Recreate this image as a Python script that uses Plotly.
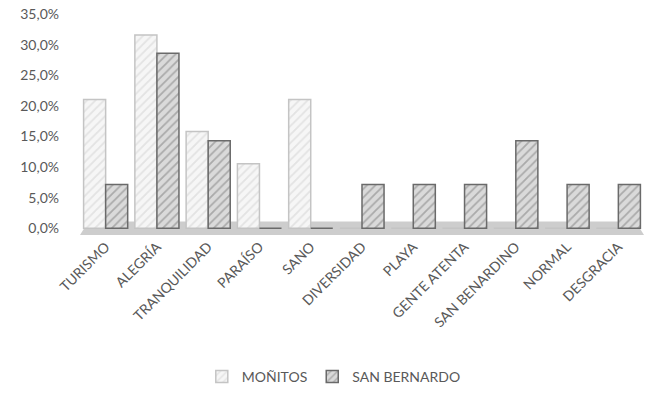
import plotly.graph_objects as go

categories = ["TURISMO", "ALEGRÍA", "TRANQUILIDAD", "PARAÍSO", "SANO", "DIVERSIDAD",
              "PLAYA", "GENTE ATENTA", "SAN BENARDINO", "NORMAL", "DESGRACIA"]
monitos = [0.2105, 0.3158, 0.1579, 0.1053, 0.2105, 0, 0, 0, 0, 0, 0]
san_bernardo = [0.0714, 0.2857, 0.1429, 0, 0, 0.0714, 0.0714, 0.0714, 0.1429, 0.0714, 0.0714]
y_ticks = [0, 0.05, 0.10, 0.15, 0.20, 0.25, 0.30, 0.35]

font_family = "Lato, 'Open Sans', sans-serif"

fig = go.Figure()
fig.add_trace(go.Bar(
    x=categories, y=monitos, name="MOÑITOS",
    marker=dict(color="#f4f4f4",
                line=dict(color="#c4c4c4", width=1.5),
                pattern=dict(shape="/", fgcolor="#cfcfcf", bgcolor="#f6f6f6", size=6, solidity=0.3)),
))
fig.add_trace(go.Bar(
    x=categories, y=san_bernardo, name="SAN BERNARDO",
    marker=dict(color="#d4d4d4",
                line=dict(color="#6a6a6a", width=1.5),
                pattern=dict(shape="/", fgcolor="#7a7a7a", bgcolor="#dadada", size=6, solidity=0.3)),
))

# floor
fig.add_shape(type="path", xref="paper", yref="y",
              path="M 0.0,-0.011 L 1.0,-0.011 L 0.985,0.011 L 0.015,0.011 Z",
              fillcolor="#cdcdcd", line=dict(width=0), layer="below")

fig.update_layout(
    width=650, height=393,
    paper_bgcolor="white", plot_bgcolor="white",
    separators=",.",
    barmode="group", bargap=0.14, bargroupgap=0.0,
    margin=dict(l=80, r=6, t=14, b=158, autoexpand=False),
    font=dict(family=font_family, color="#595959", size=13),
    legend=dict(orientation="h", x=0.45, xanchor="center", y=-0.57, yanchor="top",
                font=dict(size=14, color="#595959"), itemwidth=30, traceorder="normal"),
    showlegend=True,
)
fig.update_xaxes(tickangle=-45, showgrid=False, showline=False, ticks="", automargin=False,
                 tickfont=dict(size=14, color="#595959"))
fig.update_yaxes(range=[-0.011, 0.35], tickvals=y_ticks, tickformat=".1%", automargin=False,
                 showgrid=False, zeroline=False, showline=False, ticks="",
                 tickfont=dict(size=14, color="#595959"), ticklabelstandoff=20)

fig.write_html("out.html", config={"displayModeBar": False},
               post_script="document.body.style.margin='0';document.body.style.padding='0';")
